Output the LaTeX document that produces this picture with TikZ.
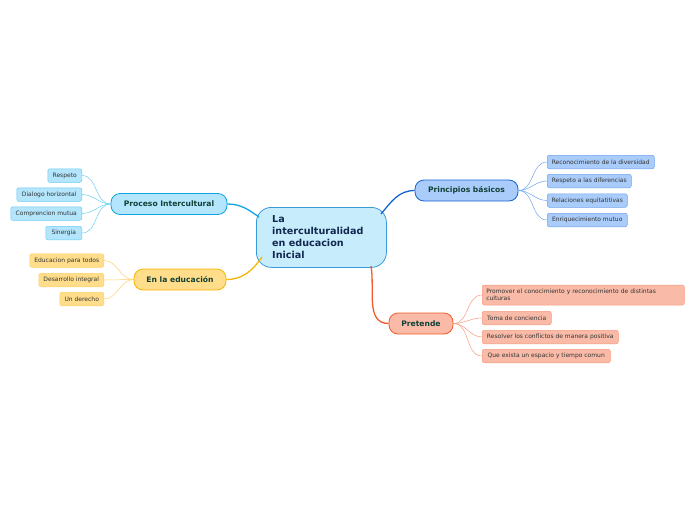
\documentclass[tikz,border=0pt]{standalone}
\usepackage{fontspec}
\setmainfont{DejaVu Sans}
\definecolor{cenB}{HTML}{3A9AD9}\definecolor{cenF}{HTML}{C7ECFB}\definecolor{cenT}{HTML}{122850}
\definecolor{txtG}{HTML}{114035}\definecolor{txtD}{HTML}{333333}
\definecolor{pB}{HTML}{10A5E2}\definecolor{pF}{HTML}{B3E5FC}\definecolor{pL}{HTML}{6CCDF2}
\definecolor{eB}{HTML}{F7B500}\definecolor{eF}{HTML}{FFDD8A}\definecolor{eL}{HTML}{FBD36A}
\definecolor{bB}{HTML}{1363D6}\definecolor{bF}{HTML}{A9CCFA}\definecolor{bL}{HTML}{6FA3EE}
\definecolor{rB}{HTML}{F25A28}\definecolor{rF}{HTML}{F9BBA8}\definecolor{rL}{HTML}{F79A7C}
\begin{document}
\begin{tikzpicture}[x=1pt,y=-1pt,
  central/.style={draw=cenB,fill=cenF,line width=0.8pt,rounded corners=15pt,anchor=north west,inner sep=0pt},
  branch/.style={draw=#1B,fill=#1F,line width=0.8pt,rounded corners=9pt,font=\fontsize{7.6}{8}\selectfont\bfseries,text=txtG,inner sep=0pt},
  leaf/.style={draw=#1L,fill=#1F,line width=0.5pt,rounded corners=2pt,font=\fontsize{6}{7.2}\selectfont,text=txtD,inner xsep=4pt,inner ysep=0pt,minimum height=13.5pt,align=left},
  mainline/.style={draw=#1B,line width=1.3pt},
  leafline/.style={draw=#1L,line width=0.5pt}]
\useasboundingbox (0,0) rectangle (696,520);
% central
\node[central,minimum width=130pt,minimum height=60pt] (c) at (256,207) {};
\node[anchor=west,font=\fontsize{9.6}{12}\selectfont\bfseries,text=cenT,align=left,inner sep=0pt] (ct) at (272,237) {La\\interculturalidad\\en educacion\\Inicial};
% branches
\node[branch=p,minimum width=116pt,minimum height=21pt] (p) at (169,204) {Proceso Intercultural};
\node[branch=e,minimum width=92pt,minimum height=21pt] (e) at (180,279.5) {En la educación};
\node[branch=b,minimum width=103pt,minimum height=21pt] (b) at (466.5,190.5) {Principios básicos};
\node[branch=r,minimum width=64pt,minimum height=21pt] (r) at (421,323.5) {Pretende};
% anchor points on central
\coordinate (c1) at (259,217);
\coordinate (c2) at (262,257);
\coordinate (c3) at (381,214);
\coordinate (c4) at (371,266);
\draw[mainline=p] (p.east) to[out=0,in=145] (c1);
\draw[mainline=e] (e.east) to[out=0,in=-125] (c2);
\draw[mainline=b] (c3) to[out=50,in=180] (b.west);
\draw[mainline=r] (c4) to[out=-80,in=180] (r.west);
% left leaves
\node[leaf=p,anchor=east,minimum width=34pt] (p1) at (82,175.5) {Respeto};
\node[leaf=p,anchor=east,minimum width=65pt] (p2) at (82,194.5) {Dialogo horizontal};
\node[leaf=p,anchor=east,minimum width=71pt] (p3) at (82,213.5) {Comprencion mutua};
\node[leaf=p,anchor=east,minimum width=36pt] (p4) at (82,233) {Sinergia};
\foreach \n in {p1,p2,p3,p4} \draw[leafline=p] (p.west) to[out=180,in=0] (\n.east);
\node[leaf=e,anchor=east,minimum width=74pt] (e1) at (104,260.5) {Educacion para todos};
\node[leaf=e,anchor=east,minimum width=65pt] (e2) at (104,280) {Desarrollo integral};
\node[leaf=e,anchor=east,minimum width=44pt] (e3) at (104,299) {Un derecho};
\foreach \n in {e1,e2,e3} \draw[leafline=e] (e.west) to[out=180,in=0] (\n.east);
% right leaves
\node[leaf=b,anchor=west,minimum width=107pt] (b1) at (547,162) {Reconocimiento de la diversidad};
\node[leaf=b,anchor=west,minimum width=84pt] (b2) at (547,181) {Respeto a las diferencias};
\node[leaf=b,anchor=west,minimum width=80pt] (b3) at (547,200.5) {Relaciones equitatitivas};
\node[leaf=b,anchor=west,minimum width=80pt] (b4) at (547,220) {Enriquecimiento mutuo};
\foreach \n in {b1,b2,b3,b4} \draw[leafline=b] (b.east) to[out=0,in=180] (\n.west);
\node[leaf=r,anchor=west,text width=194pt,minimum height=20pt] (r1) at (482,295) {Promover el conocimiento y reconocimiento de distintas\\culturas};
\node[leaf=r,anchor=west,minimum width=69pt] (r2) at (482,318) {Toma de conciencia};
\node[leaf=r,anchor=west,minimum width=136pt] (r3) at (482,337) {Resolver los conflictos de manera positiva};
\node[leaf=r,anchor=west,minimum width=128pt] (r4) at (482,356) {Que exista un espacio y tiempo comun};
\foreach \n in {r1,r2,r3,r4} \draw[leafline=r] (r.east) to[out=0,in=180] (\n.west);
\end{tikzpicture}
\end{document}
